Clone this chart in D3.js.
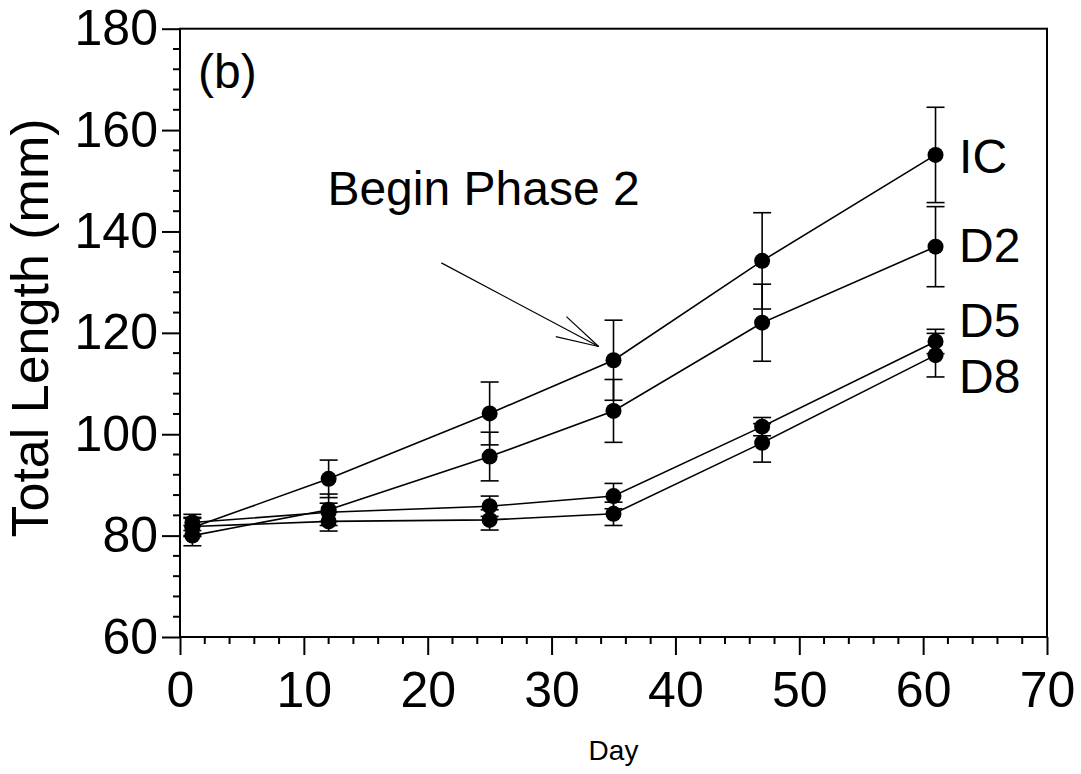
<!DOCTYPE html>
<html>
<head>
<meta charset="utf-8">
<script src="https://cdn.jsdelivr.net/npm/d3@7"></script>
<style>
  body { margin: 0; background: #fff; }
  svg { display: block; }
  text { font-family: "Liberation Sans", Arial, sans-serif; fill: #000; }
</style>
</head>
<body>
<svg id="chart" width="1081" height="774"></svg>
<script>
// days sampled
var days = [1, 12, 25, 35, 47, 61];

// mean total length (mm) and error (+/-) per group
var IC     = [81.6, 91.2, 104.1, 114.6, 134.2, 155.1];
var IC_err = [1.8, 3.7, 6.2, 7.9, 9.5, 9.4];
var D2     = [80.0, 85.1, 95.6, 104.6, 122.0, 137.0];
var D2_err = [2.0, 3.1, 4.8, 6.2, 7.6, 7.9];
var D5     = [82.6, 84.6, 85.8, 87.8, 101.5, 118.3];
var D5_err = [1.6, 1.8, 2.0, 2.5, 1.8, 2.4];
var D8     = [81.8, 82.8, 83.1, 84.3, 98.3, 115.6];
var D8_err = [1.8, 1.9, 2.0, 2.3, 3.8, 4.3];

var seriesNames = ["IC", "D2", "D5", "D8"];
// label anchors (day, mm) for the end-of-line names
var labelDay = [62.9, 62.9, 62.9, 62.9];
var labelVal = [151.5, 134.0, 119.2, 108.1];

var xTicks = [0, 10, 20, 30, 40, 50, 60, 70];
var yTicks = [60, 80, 100, 120, 140, 160, 180];

var margin = {top: 28.7, right: 34, bottom: 137, left: 180};
var width = 1081, height = 774;

var x = d3.scaleLinear().domain([0, 70]).range([margin.left, width - margin.right]);
var y = d3.scaleLinear().domain([60, 180]).range([height - margin.bottom, margin.top]);

var svg = d3.select("#chart");

var groups = [
  {name: "IC", v: IC, e: IC_err},
  {name: "D2", v: D2, e: D2_err},
  {name: "D5", v: D5, e: D5_err},
  {name: "D8", v: D8, e: D8_err}
];

// frame
svg.append("rect")
   .attr("x", x(0)).attr("y", y(180))
   .attr("width", x(70) - x(0)).attr("height", y(60) - y(180))
   .attr("fill", "none").attr("stroke", "#000").attr("stroke-width", 2);

// x axis
var xAxis = d3.axisBottom(x).tickValues(xTicks).tickSize(18).tickPadding(16);
var gx = svg.append("g").attr("transform", "translate(0," + y(60) + ")").call(xAxis);
gx.select(".domain").remove();
gx.selectAll(".tick line").attr("stroke-width", 2);
gx.selectAll(".tick text").style("font-size", "50px")
   .style("font-family", "'Liberation Sans', Arial, sans-serif");
var xMinor = d3.range(0, 71, 2).filter(function(d) { return d % 10 != 0; });
svg.append("g").selectAll("line").data(xMinor).enter().append("line")
   .attr("x1", function(d) { return x(d); }).attr("x2", function(d) { return x(d); })
   .attr("y1", y(60)).attr("y2", y(60) + 7)
   .attr("stroke", "#000").attr("stroke-width", 2);

// y axis
var yAxis = d3.axisLeft(y).tickValues(yTicks).tickSize(18).tickPadding(4);
var gy = svg.append("g").attr("transform", "translate(" + x(0) + ",0)").call(yAxis);
gy.select(".domain").remove();
gy.selectAll(".tick line").attr("stroke-width", 2);
gy.selectAll(".tick text").style("font-size", "50px")
   .style("font-family", "'Liberation Sans', Arial, sans-serif");
var yMinor = d3.range(60, 181, 4).filter(function(d) { return (d - 60) % 20 != 0; });
svg.append("g").selectAll("line").data(yMinor).enter().append("line")
   .attr("x1", x(0) - 7).attr("x2", x(0))
   .attr("y1", function(d) { return y(d); }).attr("y2", function(d) { return y(d); })
   .attr("stroke", "#000").attr("stroke-width", 2);

// axis titles
svg.append("text")
   .attr("x", (x(0) + x(70)) / 2).attr("y", 760)
   .attr("text-anchor", "middle").style("font-size", "28px")
   .text("Day");
svg.append("text")
   .attr("transform", "translate(48,328) rotate(-90)")
   .attr("text-anchor", "middle").style("font-size", "52px")
   .text("Total Length (mm)");

// lines
var line = d3.line()
   .x(function(d, i) { return x(days[i]); })
   .y(function(d) { return y(d); });
svg.append("g").selectAll("path").data(groups).enter().append("path")
   .attr("d", function(g) { return line(g.v); })
   .attr("fill", "none").attr("stroke", "#000").attr("stroke-width", 1.6);

// error bars
var capW = 9;
groups.forEach(function(g) {
  var eb = svg.append("g").selectAll("g").data(g.v).enter().append("g");
  eb.append("line")
    .attr("x1", function(d, i) { return x(days[i]); })
    .attr("x2", function(d, i) { return x(days[i]); })
    .attr("y1", function(d, i) { return y(d + g.e[i]); })
    .attr("y2", function(d, i) { return y(d - g.e[i]); })
    .attr("stroke", "#000").attr("stroke-width", 1.6);
  [1, -1].forEach(function(s) {
    eb.append("line")
      .attr("x1", function(d, i) { return x(days[i]) - capW; })
      .attr("x2", function(d, i) { return x(days[i]) + capW; })
      .attr("y1", function(d, i) { return y(d + s * g.e[i]); })
      .attr("y2", function(d, i) { return y(d + s * g.e[i]); })
      .attr("stroke", "#000").attr("stroke-width", 1.6);
  });
});

// markers
groups.forEach(function(g) {
  svg.append("g").selectAll("circle").data(g.v).enter().append("circle")
     .attr("cx", function(d, i) { return x(days[i]); })
     .attr("cy", function(d) { return y(d); })
     .attr("r", 8).attr("fill", "#000");
});

// series names
svg.append("g").selectAll("text").data(seriesNames).enter().append("text")
   .attr("x", function(d, i) { return x(labelDay[i]); })
   .attr("y", function(d, i) { return y(labelVal[i]); })
   .style("font-size", "48px")
   .text(function(d) { return d; });

// panel letter
svg.append("text").attr("x", x(1.45)).attr("y", y(168.4))
   .style("font-size", "48px").text("(b)");

// annotation with open arrow
svg.append("text").attr("x", x(11.9)).attr("y", y(145.2))
   .style("font-size", "48px").text("Begin Phase 2");
var tail = [x(21.1), y(133.8)], tip = [x(33.8), y(117.3)];
svg.append("line")
   .attr("x1", tail[0]).attr("y1", tail[1]).attr("x2", tip[0]).attr("y2", tip[1])
   .attr("stroke", "#000").attr("stroke-width", 1.2);
var ang = Math.atan2(tail[1] - tip[1], tail[0] - tip[0]);
[0.26, -0.26].forEach(function(da) {
  svg.append("line")
     .attr("x1", tip[0]).attr("y1", tip[1])
     .attr("x2", tip[0] + 44 * Math.cos(ang + da))
     .attr("y2", tip[1] + 44 * Math.sin(ang + da))
     .attr("stroke", "#000").attr("stroke-width", 1.2);
});
</script>
</body>
</html>
